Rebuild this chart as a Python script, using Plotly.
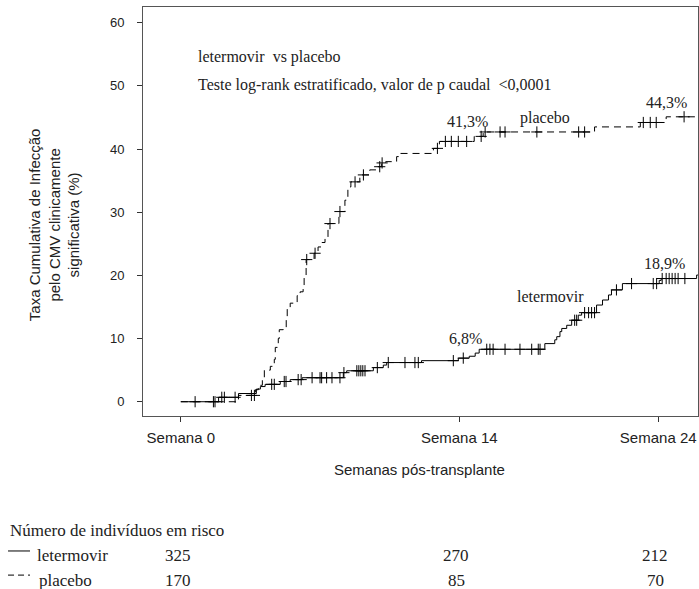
import numpy as np
import plotly.graph_objects as go

# ---------------- data ----------------
# placebo cumulative incidence step function (week, %)
placebo_t = [0, 2.9, 3.75, 3.9, 4.1, 4.2, 4.5, 4.7, 4.75, 4.9, 4.95, 5.15, 5.3, 5.35, 5.5,
             5.85, 6.0, 6.15, 6.2, 6.3, 6.7, 6.9, 7.1, 7.25, 7.4, 7.95, 8.25, 8.4, 8.55,
             9.0, 9.5, 9.9, 10.1, 10.3, 10.85, 11.0, 12.7, 13.0, 14.75, 15.2, 20.8, 23.1,
             24.4, 26.0]
placebo_y = [0, 1.0, 1.9, 2.6, 3.4, 5.0, 5.6, 6.7, 8.6, 10.0, 11.4, 11.8, 13.0, 14.8, 15.6,
             16.8, 17.4, 18.2, 19.8, 22.5, 23.5, 24.5, 25.2, 25.8, 28.2, 30.1, 31.9, 34.0, 34.8,
             35.9, 36.7, 37.2, 37.8, 38.0, 38.8, 39.3, 40.1, 41.2, 42.0, 42.7, 43.5, 44.2,
             45.1, 45.1]
placebo_cens = [3.55, 3.7, 6.33, 6.75, 7.5, 8.0, 8.76, 9.18, 10.0, 10.12, 12.9, 13.3, 13.6,
                13.95, 14.37, 15.1, 15.3, 16.05, 16.3, 17.9, 20.0, 20.3, 23.25, 23.6, 23.9, 25.3]

# letermovir cumulative incidence step function (week, %)
let_t = [0, 1.9, 2.9, 3.8, 4.0, 4.24, 5.0, 5.5, 6.1, 8.17, 8.34, 9.68, 10.18, 10.35, 12.1,
         13.95, 14.5, 14.8, 15.0, 18.3, 18.8, 18.9, 19.06, 19.15, 19.4, 19.65, 19.98, 20.15,
         20.9, 21.2, 21.5, 21.65, 22.2, 24.05, 24.15, 25.93, 26.0]
let_y = [0, 0.7, 1.3, 2.0, 2.4, 2.75, 3.2, 3.5, 3.8, 4.6, 4.9, 5.4, 5.8, 6.2, 6.5,
         6.9, 7.2, 7.7, 8.3, 9.2, 9.8, 10.3, 11.1, 11.6, 12.1, 12.9, 13.7, 14.1,
         15.3, 16.1, 16.9, 17.7, 18.7, 19.2, 19.5, 20.05, 20.05]
let_cens = [0.72, 1.64, 1.72, 2.06, 2.19, 2.73, 4.57, 4.7, 5.2, 5.29, 5.9, 6.05, 6.6, 7.0,
            7.08, 7.33, 7.6, 8.0, 8.2, 8.85, 8.95, 9.05, 9.15, 9.26, 9.88, 10.43, 11.27,
            11.77, 11.94, 13.7, 14.2, 15.38, 15.54, 15.7, 16.3, 17.05, 17.64, 17.97, 18.06,
            19.8, 19.9, 20.3, 20.5, 20.65, 20.8, 21.9, 22.66, 23.75, 23.92, 24.2, 24.4,
            24.55, 24.7, 24.85, 25.0, 25.34]

# labels
tick_weeks = [0, 14, 24]
tick_text = ["Semana 0", "Semana 14", "Semana 24"]
y_ticks = [0, 10, 20, 30, 40, 50, 60]
pct_placebo = ["41,3%", "44,3%"]
pct_let = ["6,8%", "18,9%"]
pct_weeks = [14, 24]

risk_groups = ["letermovir", "placebo"]
risk_let = [325, 270, 212]
risk_plac = [170, 85, 70]


def step_value(ts, ys, t):
    i = np.searchsorted(np.array(ts), t, side="right") - 1
    return ys[max(i, 0)]


SERIF = "Liberation Serif, Times New Roman, serif"
SANS = "Liberation Sans, Arial, sans-serif"

fig = go.Figure()

fig.add_trace(go.Scatter(x=placebo_t, y=placebo_y, mode="lines",
                         line=dict(color="black", width=1, shape="hv", dash="7px,5px"),
                         hoverinfo="skip", showlegend=False))
fig.add_trace(go.Scatter(x=let_t, y=let_y, mode="lines",
                         line=dict(color="black", width=1, shape="hv"),
                         hoverinfo="skip", showlegend=False))
fig.add_trace(go.Scatter(x=placebo_cens, y=[step_value(placebo_t, placebo_y, t) for t in placebo_cens],
                         mode="markers",
                         marker=dict(symbol="cross-thin", size=8, line=dict(color="black", width=1)),
                         hoverinfo="skip", showlegend=False))
fig.add_trace(go.Scatter(x=let_cens, y=[step_value(let_t, let_y, t) for t in let_cens],
                         mode="markers",
                         marker=dict(symbol="cross-thin", size=8, line=dict(color="black", width=1)),
                         hoverinfo="skip", showlegend=False))

ann = []
# percentage labels above curves
for w, txt in zip(pct_weeks, pct_placebo):
    ann.append(dict(x=w, y=step_value(placebo_t, placebo_y, w), xref="x", yref="y", text=txt,
                    showarrow=False, yshift=20, xshift=8, font=dict(family=SERIF, size=16, color="#222")))
for w, txt in zip(pct_weeks, pct_let):
    ann.append(dict(x=w, y=step_value(let_t, let_y, w), xref="x", yref="y", text=txt,
                    showarrow=False, yshift=20, xshift=6, font=dict(family=SERIF, size=16, color="#222")))
ann.append(dict(x=18.3, y=44.9, xref="x", yref="y", text="placebo", showarrow=False,
                font=dict(family=SERIF, size=16, color="#222")))
ann.append(dict(x=18.6, y=16.6, xref="x", yref="y", text="letermovir", showarrow=False,
                font=dict(family=SERIF, size=16, color="#222")))

# top text
ann.append(dict(x=0.0955, y=0.878, xref="paper", yref="paper", xanchor="left", yanchor="middle",
                text="letermovir  vs placebo", showarrow=False,
                font=dict(family=SERIF, size=16, color="#222")))
ann.append(dict(x=0.0955, y=0.809, xref="paper", yref="paper", xanchor="left", yanchor="middle",
                text="Teste log-rank estratificado, valor de p caudal  &lt;0,0001", showarrow=False,
                font=dict(family=SERIF, size=16, color="#222")))

# axis titles
ann.append(dict(x=0.499, y=-0.132, xref="paper", yref="paper", xanchor="center", yanchor="middle",
                text="Semanas pós-transplante",
                showarrow=False, font=dict(family=SANS, size=15, color="#222")))
ann.append(dict(x=-0.16, y=0.467, xref="paper", yref="paper", xanchor="center", yanchor="middle",
                textangle=-90,
                text="Taxa Cumulativa de Infecção<br>pelo CMV clinicamente<br>significativa (%)",
                showarrow=False, font=dict(family=SANS, size=15, color="#222")))

# risk table
ann.append(dict(x=-0.243, y=-0.281, xref="paper", yref="paper", xanchor="left", yanchor="middle",
                text="Número de indivíduos em risco", showarrow=False,
                font=dict(family=SERIF, size=17, color="#222")))
ann.append(dict(x=-0.1946, y=-0.342, xref="paper", yref="paper", xanchor="left", yanchor="middle",
                text=risk_groups[0], showarrow=False, font=dict(family=SERIF, size=17, color="#222")))
ann.append(dict(x=-0.191, y=-0.401, xref="paper", yref="paper", xanchor="left", yanchor="middle",
                text=risk_groups[1], showarrow=False, font=dict(family=SERIF, size=17, color="#222")))
for w, n1, n2 in zip(tick_weeks, risk_let, risk_plac):
    ann.append(dict(x=w, y=-0.342, xref="x", yref="paper", xanchor="center", yanchor="middle",
                    text=str(n1), showarrow=False,
                    xshift=-3, font=dict(family=SERIF, size=17, color="#222")))
    ann.append(dict(x=w, y=-0.401, xref="x", yref="paper", xanchor="center", yanchor="middle",
                    text=str(n2), showarrow=False,
                    xshift=-3, font=dict(family=SERIF, size=17, color="#222")))

shapes = [
    dict(type="line", xref="paper", yref="paper", x0=-0.2432, x1=-0.2036, y0=-0.330, y1=-0.330,
         line=dict(color="black", width=1)),
    dict(type="line", xref="paper", yref="paper", x0=-0.2432, x1=-0.2036, y0=-0.389, y1=-0.389,
         line=dict(color="black", width=1, dash="6px,4px")),
]

fig.update_layout(
    width=699, height=589,
    margin=dict(l=143, r=1, t=7, b=173),
    plot_bgcolor="white", paper_bgcolor="white",
    annotations=ann, shapes=shapes,
    xaxis=dict(range=[-1.9, 26.0], tickvals=tick_weeks, ticktext=tick_text,
               showgrid=False, zeroline=False, showline=True, mirror=True,
               linecolor="#555", linewidth=1, ticks="outside", ticklen=5, tickcolor="#333",
               ticklabelstandoff=3,
               tickfont=dict(family=SANS, size=15, color="#222")),
    yaxis=dict(range=[-2.26, 62.48], tickvals=y_ticks,
               showgrid=False, zeroline=False, showline=True, mirror=True,
               linecolor="#555", linewidth=1, ticks="outside", ticklen=5, tickcolor="#333",
               ticklabelstandoff=10,
               tickfont=dict(family=SANS, size=13, color="#222")),
)

fig.write_html("out.html")
